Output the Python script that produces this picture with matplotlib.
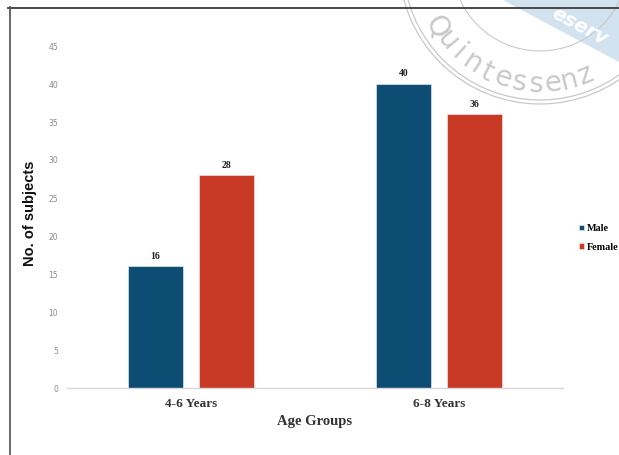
import numpy as np
import matplotlib
matplotlib.use("Agg")
import matplotlib.pyplot as plt
from matplotlib.patches import Circle, Polygon
from matplotlib.lines import Line2D

# Data
age_groups = ["4-6 Years", "6-8 Years"]
male = [16, 40]
female = [28, 36]
series_labels = ["Male", "Female"]
y_ticks = [0, 5, 10, 15, 20, 25, 30, 35, 40, 45]

W, H = 619, 455
fig = plt.figure(figsize=(W / 100, H / 100), dpi=100)
fig.patch.set_facecolor("white")

ax = fig.add_axes([67 / W, 1 - 388 / H, (563 - 67) / W, (388 - 46) / H])

x = np.arange(len(age_groups))
off, bw = 0.143, 0.222
b1 = ax.bar(x - off, male, bw, color="#0E4D73", edgecolor="#dfe8ef", linewidth=0.5,
            label=series_labels[0])
b2 = ax.bar(x + off, female, bw, color="#C83A25", edgecolor="#f3dcd8", linewidth=0.5,
            label=series_labels[1])

lbl_font = dict(family="Liberation Serif", weight="bold", size=7, color="#222222")
ax.bar_label(b1, padding=4, **lbl_font)
ax.bar_label(b2, padding=4, **lbl_font)

ax.set_xlim(-0.5, 1.5)
ax.set_ylim(0, 45)
ax.set_yticks(y_ticks)
ax.set_yticklabels([str(v) for v in y_ticks], fontsize=5.5, color="#8a8a8a")
ax.set_xticks(x)
ax.set_xticklabels(age_groups, family="Liberation Serif", weight="bold",
                   fontsize=9.5, color="#333333")
ax.tick_params(axis="y", length=0, pad=6.5)
ax.tick_params(axis="x", length=0, pad=7)
for s in ["top", "right", "left"]:
    ax.spines[s].set_visible(False)
ax.spines["bottom"].set_color("#d9d9d9")
ax.spines["bottom"].set_linewidth(1.0)

ax.set_xlabel("Age Groups", family="Liberation Serif", weight="bold",
              fontsize=10.5, color="#333333", labelpad=4)
ax.set_ylabel("No. of subjects", family="Liberation Sans", weight="bold",
              fontsize=10.5, color="#111111")
ax.yaxis.set_label_coords(-0.06, 0.51)

leg = ax.legend(loc="center left", bbox_to_anchor=(579 / W, 1 - 238 / H),
                bbox_transform=fig.transFigure, frameon=False,
                prop=dict(family="Liberation Serif", weight="bold", size=7.3),
                handlelength=0.5, handleheight=0.5, handletextpad=0.25,
                labelspacing=0.95, borderpad=0, borderaxespad=0)

# Overlay in pixel coordinates: page frame and publisher stamp
ov = fig.add_axes([0, 0, 1, 1], zorder=10)
ov.set_xlim(0, W)
ov.set_ylim(H, 0)
ov.axis("off")
ov.patch.set_alpha(0)

ov.add_line(Line2D([8, W], [7.5, 7.5], color="#3a3a3a", lw=1.3))
ov.add_line(Line2D([9.5, 9.5], [7, H], color="#5a5a5a", lw=1.3))

# diagonal ribbon
ov.add_patch(Polygon([[503, 0], [W, 0], [W, 62]], closed=True,
                     facecolor="#d3e2ef", edgecolor="none"))
ov.text(580, 26, "eserv", rotation=-28, color="white", fontsize=14,
        family="DejaVu Sans", weight="bold", style="italic",
        ha="center", va="center")

cx, cy = 540, -37
stamp = "#c9c9c9"
for r, lw in [(141, 0.9), (137, 0.9), (88, 0.8)]:
    ov.add_patch(Circle((cx, cy), r, fill=False, edgecolor=stamp, lw=lw))

word = "Quintessenz"
angles = np.linspace(212, 292, len(word))
for ch, a in zip(word, angles):
    t = np.deg2rad(a)
    r = 121
    px = cx + r * np.cos(t)
    py = cy - r * np.sin(t)
    ov.text(px, py, ch, rotation=a + 90, rotation_mode="anchor",
            ha="center", va="center", fontsize=20, color=stamp,
            family="DejaVu Sans")

fig.savefig("out.png", dpi=100, facecolor="white")
